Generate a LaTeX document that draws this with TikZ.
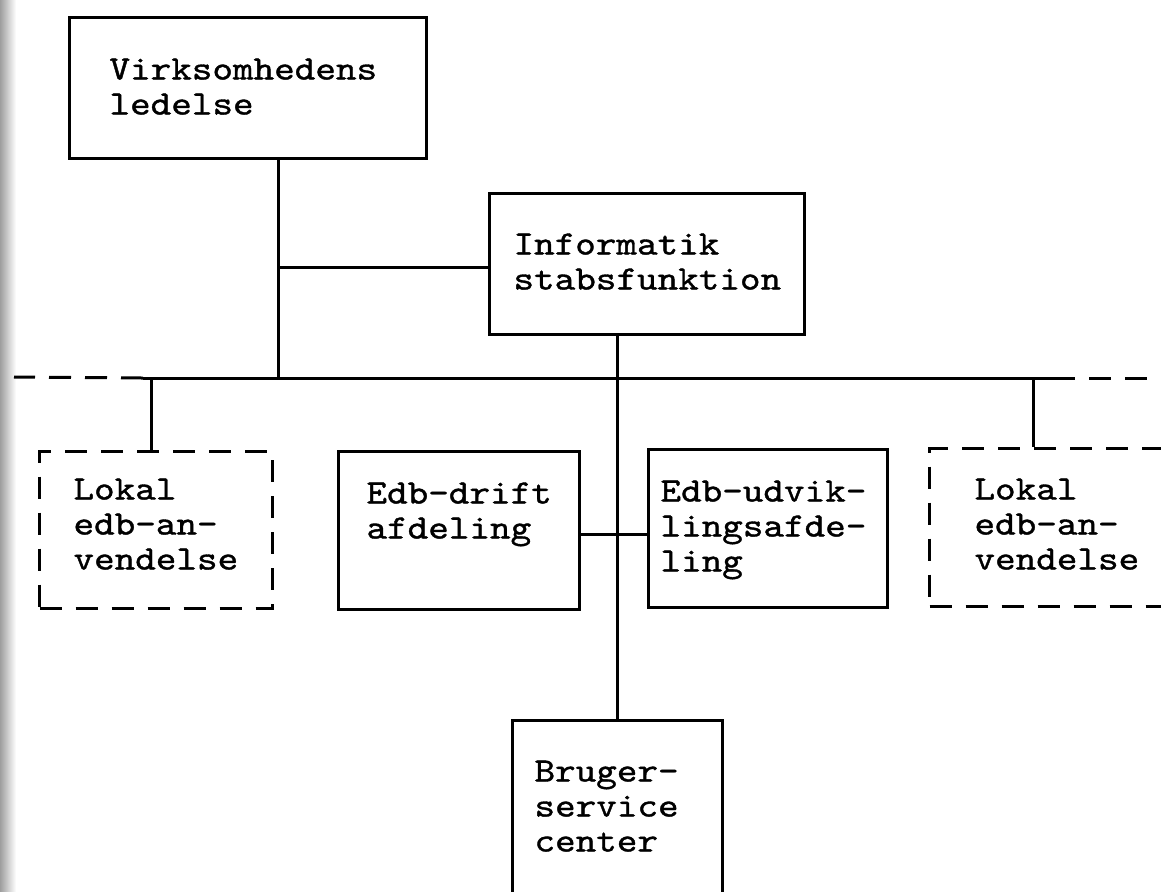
\documentclass[tikz,border=0pt]{standalone}
\usepackage{fontspec}
\newfontfamily\tfont{lmmono10-regular.otf}[FakeStretch=1.15, FakeBold=1.1]
\hyphenpenalty=10000
\exhyphenpenalty=10000
\begin{document}
\begin{tikzpicture}[x=0.5pt,y=-0.5pt,
  ln/.style={draw=black,line width=1.5pt},
  dsh/.style={dash pattern=on 11pt off 7pt},
  tbox/.style={draw=black, rectangle, anchor=north west, inner ysep=0pt, align=left,
    line width=1.5pt, font=\tfont\fontsize{17.05pt}{17.5pt}\selectfont}]
\useasboundingbox (0,0) rectangle (1161,891);
\clip (0,0) rectangle (1161,891);
\fill[white] (0,0) rectangle (1161,891);
\shade[left color=black!38, right color=white, draw=none] (0,0) rectangle (16,891);

% boxes
\node[tbox, inner xsep=20pt, text width=138.5pt, text height=31pt, text depth=39.5pt]
  (virk) at (68,16) {Virksomhedens\\ledelse};
\node[tbox, inner xsep=12pt, text width=133.5pt, text height=30.5pt, text depth=40pt]
  (info) at (488,192) {Informatik\\stabsfunktion};
\node[tbox, dsh, inner xsep=17pt, text width=82.5pt, text height=24pt, text depth=54.5pt]
  (lok1) at (38,450) {Lokal\\edb-an-\\vendelse};
\node[tbox, inner xsep=14pt, text width=92.5pt, text height=26pt, text depth=53pt]
  (drift) at (337,450) {Edb-drift\\afdeling};
\node[tbox, inner xsep=6pt, text width=107.5pt, text height=26pt, text depth=53pt]
  (udvik) at (647,448) {Edb-udvik-\\lingsafde-\\ling};
\node[tbox, dsh, inner xsep=22.5pt, text width=91pt, text height=25.5pt, text depth=53.5pt]
  (lok2) at (928,447) {Lokal\\edb-an-\\vendelse};
\node[tbox, inner xsep=11pt, text width=83pt, text height=30.5pt, text depth=75pt]
  (bruger) at (511,719) {Bruger-\\service\\center};

% coordinates
\coordinate (j1) at (278,267);
\coordinate (jb) at (278,378);
\coordinate (edgeL) at (14,377);
\coordinate (busL) at (143,378);
\coordinate (busR) at (1053,378);
\coordinate (edgeR) at (1161,378);
\coordinate (dropL) at (151,378);
\coordinate (dropR) at (1033,378);
\coordinate (je) at (615,534);

% connectors
\draw[ln] (virk.south -| jb) -- (jb);
\draw[ln] (j1) -- (info.west |- j1);
\draw[ln] (info.south -| bruger.north) -- (bruger.north);
\draw[ln] (busL) -- (busR);
\draw[ln,dsh] (busL) -- (edgeL);
\draw[ln,dsh] (busR) -- (edgeR);
\draw[ln] (dropL) -- (lok1.north -| dropL);
\draw[ln] (dropR) -- (lok2.north -| dropR);
\draw[ln] (drift.east |- je) -- (udvik.west |- je);
\end{tikzpicture}
\end{document}
